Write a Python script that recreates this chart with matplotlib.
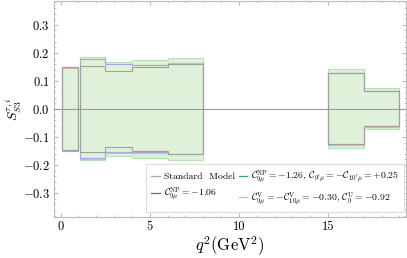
import numpy as np
import matplotlib
matplotlib.use("Agg")
import matplotlib.pyplot as plt
from matplotlib.lines import Line2D
from matplotlib.ticker import MultipleLocator

plt.rcParams['font.family'] = 'serif'
plt.rcParams['font.serif'] = ['cmr10', 'DejaVu Serif']
plt.rcParams['mathtext.fontset'] = 'cm'
plt.rcParams['axes.formatter.use_mathtext'] = True

# q^2 bins (GeV^2)
bin_lo = [0.1, 1.1, 2.5, 4.0, 6.0, 15.0, 17.0]
bin_hi = [0.98, 2.5, 4.0, 6.0, 8.0, 17.0, 19.0]

# band limits for each scenario
sm_hi = [0.148, 0.154, 0.137, 0.150, 0.162, 0.127, 0.063]
sm_lo = [-0.146, -0.154, -0.136, -0.150, -0.160, -0.126, -0.062]
np1_hi = [0.150, 0.184, 0.168, 0.176, 0.183, 0.141, 0.074]
np1_lo = [-0.150, -0.183, -0.168, -0.173, -0.182, -0.140, -0.072]
np2_hi = [0.148, 0.177, 0.159, 0.156, 0.162, 0.127, 0.063]
np2_lo = [-0.148, -0.176, -0.154, -0.155, -0.160, -0.126, -0.062]
np3_hi = [0.147, 0.180, 0.162, 0.158, 0.163, 0.128, 0.064]
np3_lo = [-0.147, -0.179, -0.157, -0.157, -0.161, -0.127, -0.063]

labels = ['Standard  Model',
          r'$\mathcal{C}_{9\mu}^{\rm NP}=-1.26,\, \mathcal{C}_{9^\prime\mu}=-\mathcal{C}_{10^\prime\mu}=+0.25$',
          r'$\mathcal{C}_{9\mu}^{\rm NP}=-1.06$',
          r'$\mathcal{C}_{9\mu}^{\rm V}=-\mathcal{C}_{10\mu}^{\rm V}=-0.30,\, \mathcal{C}_{9}^{\rm U}=-0.92$']

fig = plt.figure(figsize=(4.07, 2.58), dpi=100)
ax = fig.add_axes([54/407, 41/258, 352/407, 216/258])

# split bins into contiguous groups
groups = [[0]]
for i in range(1, len(bin_lo)):
    if abs(bin_lo[i] - bin_hi[i-1]) < 1e-9:
        groups[-1].append(i)
    else:
        groups.append([i])

def band(hi, low, face, edge, lw=0.8, z=2):
    for g in groups:
        edges = [bin_lo[g[0]]] + [bin_hi[i] for i in g]
        h = np.array([hi[i] for i in g])
        l = np.array([low[i] for i in g])
        if face != 'none':
            ax.stairs(h, edges, baseline=l, fill=True, color=face, lw=0, zorder=z)
        ax.stairs(h, edges, baseline=l, fill=False, color=edge, lw=lw, zorder=z + 0.5)

band(np1_hi, np1_lo, '#dff1d9', '#b9dfb9', z=1)
band(np3_hi, np3_lo, 'none', '#e8b4b4', z=2)
band(np2_hi, np2_lo, 'none', '#a8a8e0', z=3)
band(sm_hi, sm_lo, 'none', '#a0a0a0', z=4)

ax.axhline(0, color='#999999', lw=0.8, zorder=6)

ax.set_xlim(-0.37, 19.37)
ax.set_ylim(-0.385, 0.385)
ax.xaxis.set_minor_locator(MultipleLocator(1))
ax.yaxis.set_minor_locator(MultipleLocator(0.02))
ax.set_yticks([-0.3, -0.2, -0.1, 0.0, 0.1, 0.2, 0.3])
ax.set_yticklabels(['$-0.3$', '$-0.2$', '$-0.1$', '$0.0$', '$0.1$', '$0.2$', '$0.3$'])
ax.set_xticks([0, 5, 10, 15])
ax.set_xticklabels(['0', '5', '10', '15'])
ax.tick_params(which='both', direction='in', top=True, right=True,
               color='#bbbbbb', labelsize=9, pad=3)
ax.tick_params(which='major', length=3)
ax.tick_params(which='minor', length=1.5)
for s in ax.spines.values():
    s.set_color('#bbbbbb')
    s.set_linewidth(0.8)

ax.set_xlabel(r'$q^2(\mathrm{GeV}^2)$', fontsize=12, labelpad=1)
ax.set_ylabel(r'$S_{S3}^{\tau,i}$', fontsize=10)
ax.yaxis.set_label_coords(-0.085, 0.5)

handles = [Line2D([], [], color='#aaaaaa', lw=0.9),
           Line2D([], [], color='#5566dd', lw=0.9),
           Line2D([], [], color='#33aa77', lw=0.9),
           Line2D([], [], color='#f2a8a8', lw=0.9)]
leg = ax.legend(handles, [labels[0], labels[2], labels[1], labels[3]], ncol=2,
                loc='lower right', bbox_to_anchor=(0.995, 0.025), borderaxespad=0,
                fontsize=7, handlelength=0.9, handletextpad=0.4, columnspacing=0.4,
                fancybox=False, framealpha=1, edgecolor='#dddddd', labelspacing=0.5,
                borderpad=0.5)
leg.get_frame().set_linewidth(0.8)

fig.savefig('out.png', dpi=100)
